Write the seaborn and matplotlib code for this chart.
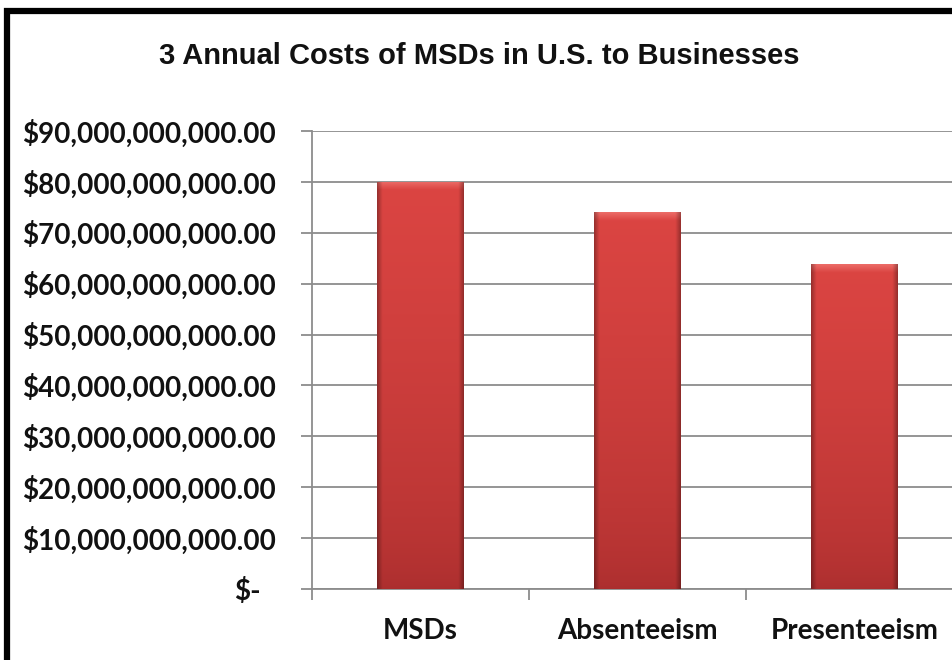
import numpy as np
import pandas as pd
import matplotlib
matplotlib.use("Agg")
import matplotlib.pyplot as plt
import matplotlib.transforms as mtransforms
from matplotlib.patches import Rectangle
import seaborn as sns

# ---- data ----
categories = ["MSDs", "Absenteeism", "Presenteeism"]
costs = [80.0e9, 74.0e9, 63.8e9]
title = "3 Annual Costs of MSDs in U.S. to Businesses"
y_ticks = [0, 10e9, 20e9, 30e9, 40e9, 50e9, 60e9, 70e9, 80e9, 90e9]
y_tick_labels = ["$-", "$10,000,000,000.00", "$20,000,000,000.00", "$30,000,000,000.00",
                 "$40,000,000,000.00", "$50,000,000,000.00", "$60,000,000,000.00",
                 "$70,000,000,000.00", "$80,000,000,000.00", "$90,000,000,000.00"]

sns.set_theme(style="white")
plt.rcParams['font.family'] = ['Lato', 'DejaVu Sans']

W, H = 952, 660
fig = plt.figure(figsize=(W / 100, H / 100), dpi=100)
fig.patch.set_facecolor("white")

ax_left, ax_right, ax_top, ax_bottom = 312, 963, 131, 589
ax = fig.add_axes([ax_left / W, 1 - ax_bottom / H, (ax_right - ax_left) / W, (ax_bottom - ax_top) / H])

df = pd.DataFrame({"category": categories, "cost": costs})
sns.barplot(data=df, x="category", y="cost", color="#D64040", saturation=1,
            width=0.4, linewidth=0, ax=ax, zorder=2)

# gradient shading on bars (cylinder-like Excel style)
top_c = np.array([0.86, 0.27, 0.26])
bot_c = np.array([0.67, 0.18, 0.18])
bevel_c = np.array([0.94, 0.46, 0.44])
for p in list(ax.patches):
    x0, w, h = p.get_x(), p.get_width(), p.get_height()
    ny, nx = 400, 90
    yy = np.linspace(0, 1, ny)[:, None]          # 0 bottom .. 1 top
    xx = np.linspace(0, 1, nx)[None, :]
    base = bot_c[None, None, :] + (top_c - bot_c)[None, None, :] * (yy[..., None] ** 0.6)
    # top bevel
    bevel_h = 1.6e9 / h
    d = (1 - yy) / bevel_h
    bev = np.clip(1 - d, 0, 1)[..., None]
    img = base * (1 - bev * 0.8) + bevel_c[None, None, :] * bev * 0.8
    img = np.broadcast_to(img, (ny, nx, 3)).copy()
    # darker edges
    edge = np.clip(1 - np.minimum(xx, 1 - xx) / 0.06, 0, 1)[..., None]
    img = img * (1 - 0.3 * edge)
    img = np.clip(img, 0, 1)
    im = ax.imshow(img[::-1], extent=[x0, x0 + w, 0, h], aspect="auto",
                   origin="upper", zorder=3, interpolation="bilinear")
    im.set_clip_path(p)

ax.set_xlim(-0.5, len(categories) - 0.5)
ax.set_ylim(0, 90e9)
ax.set_xlabel("")
ax.set_ylabel("")

ax.set_yticks(y_ticks)
ax.set_yticklabels(y_tick_labels)
ax.yaxis.grid(True, color="#8c8c8c", linewidth=1.3, zorder=0)
ax.set_axisbelow(True)

for s in ["top", "right"]:
    ax.spines[s].set_visible(False)
for s in ["left", "bottom"]:
    ax.spines[s].set_color("#8c8c8c")
    ax.spines[s].set_linewidth(1.3)

ax.tick_params(axis="y", which="major", left=True, length=8, width=1.3, color="#8c8c8c",
               pad=18, labelsize=20, labelcolor="#111111")
ax.tick_params(axis="x", which="major", bottom=False, length=0, pad=21,
               labelsize=20, labelcolor="#111111")
ax.set_xticks(np.arange(-0.5, len(categories), 1.0), minor=True)
ax.tick_params(axis="x", which="minor", bottom=True, length=8, width=1.3, color="#8c8c8c")
for lab in ax.get_yticklabels() + ax.get_xticklabels():
    lab.set_fontweight("bold")

# shift the "$-" label a bit left like accounting format
zl = ax.get_yticklabels()[0]
zl.set_transform(zl.get_transform() + mtransforms.ScaledTranslation(-15 / 100, 0, fig.dpi_scale_trans))

fig.text(479 / W, 1 - 56 / H, title, ha="center", va="center", fontsize=21,
         fontweight="bold", family=["Liberation Sans", "DejaVu Sans"], color="#111111")

# black frame (cut off at right/bottom as in the reference)
fig.patches.append(Rectangle((7 / W, -0.1), 1.2, 1.1 - 11.5 / H, transform=fig.transFigure,
                             fill=False, edgecolor="black", linewidth=4.5))

fig.savefig("out.png", dpi=100)
